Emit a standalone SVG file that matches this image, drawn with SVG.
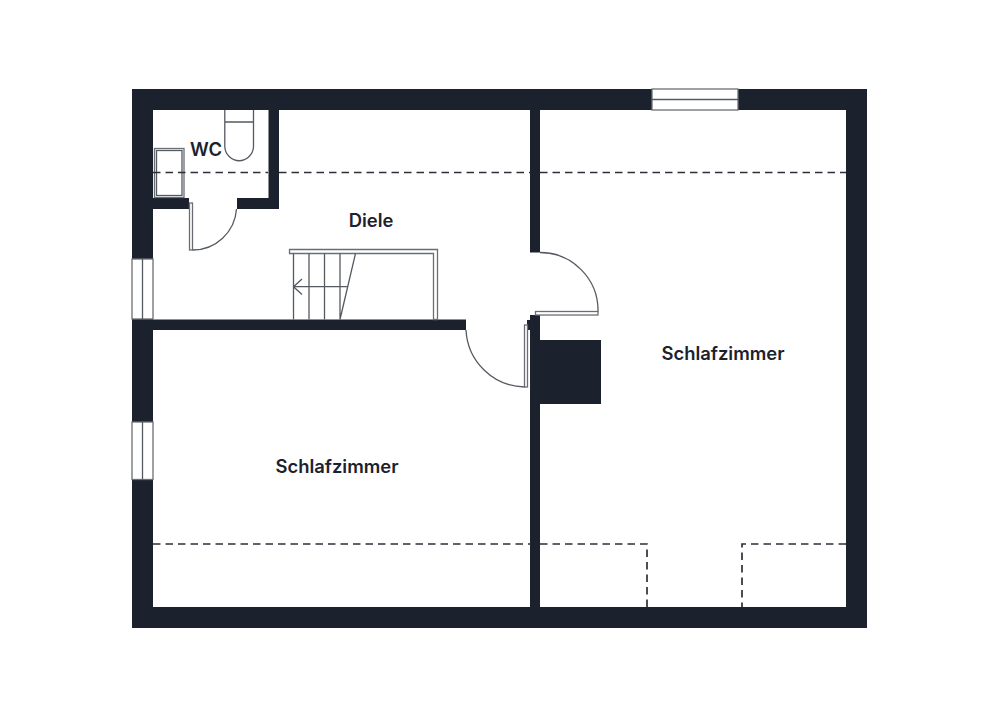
<svg xmlns="http://www.w3.org/2000/svg" width="1000" height="707" viewBox="0 0 1000 707">
<style>
.w{fill:#1b222d}
.t{font-family:"Inter","Liberation Sans",sans-serif;font-weight:600;fill:#1b222d;font-size:18.4px}
.l{fill:none;stroke:#555a60;stroke-width:1.3}
.o{fill:#fff;stroke:#6a6e74;stroke-width:1.3}
.d{fill:none;stroke:#2b3038;stroke-width:1.7;stroke-dasharray:7.500 5}
</style>
<rect width="1000" height="707" fill="#fff"/>
<g id="walls">
<path class="w" fill-rule="evenodd" d="M132 89H867V628H132ZM153 110V607H846V110Z"/>
<rect class="w" x="268.500" y="110" width="10.500" height="99"/>
<rect class="w" x="153" y="198" width="36" height="11"/>
<rect class="w" x="237" y="198" width="42" height="11"/>
<rect class="w" x="153" y="319.500" width="313" height="10.500"/>
<rect class="w" x="530" y="110" width="10" height="142.500"/>
<rect class="w" x="530" y="315" width="10" height="292"/>
<rect class="w" x="527" y="320" width="4" height="10"/>
<rect class="w" x="540" y="340" width="61" height="64"/>
</g>
<g id="windows">
<rect class="o" x="652" y="89" width="86" height="21"/><path class="l" d="M652 99.500H738"/>
<rect class="o" x="132" y="259" width="21" height="60"/><path class="l" d="M142.500 259V319"/>
<rect class="o" x="132" y="422" width="21" height="57.500"/><path class="l" d="M142.500 422V479.500"/>
</g>
<g id="doors">
<rect class="o" x="189.500" y="203" width="3" height="47"/><path class="l" d="M192.500 250A44 44 0 0 0 236.500 209"/>
<rect class="o" x="535.500" y="311.500" width="62.500" height="3.500"/><path class="l" d="M540 252.500A58 58 0 0 1 598 311.500"/>
<rect class="o" x="524.500" y="325" width="3" height="62"/><path class="l" d="M466 330A60 60 0 0 0 524.500 387"/>
</g>
<g id="stairs">
<path class="o" d="M289.500 249.500H437.500V319.500H433.500V253.500H289.500Z"/>
<path class="l" d="M293.500 253.500V319.500M309 253.500V319.500M324.500 253.500V319.500M340 253.500V319.500M340 319.500L355.500 253.500M293.500 286.700H348M302 279L293.500 286.700L302 294.500"/>
</g>
<g id="fixtures">
<path class="l" d="M224.800 110V147A14.400 15 0 0 0 253.500 147V110M224.800 122H253.500"/>
<rect class="o" x="154.500" y="148.500" width="29.500" height="49"/>
<rect class="l" x="156.500" y="150.500" width="25.500" height="45"/>
</g>
<g id="connectors">
<path class="d" d="M153 172.500H268M279 172.500H530M540 172.500H846"/>
<path class="d" d="M153 544H530M540 544H647V607"/>
<path class="d" d="M846 544H742V607"/>
</g>
<g id="labels">
<text class="t" x="206" y="156" text-anchor="middle">WC</text>
<text class="t" x="371" y="227" text-anchor="middle">Diele</text>
<text class="t" x="723" y="360" text-anchor="middle">Schlafzimmer</text>
<text class="t" x="337" y="473" text-anchor="middle">Schlafzimmer</text>
</g>
</svg>
